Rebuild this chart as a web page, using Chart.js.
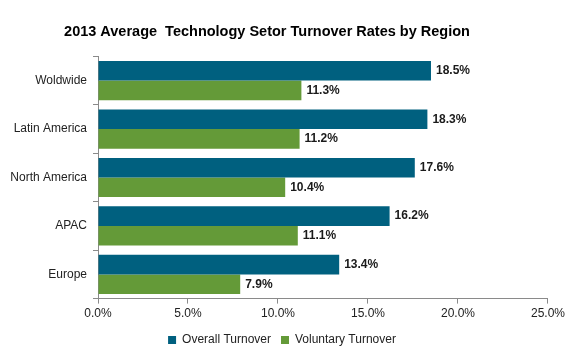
<!DOCTYPE html>
<html>
<head>
<meta charset="utf-8">
<script src="https://cdn.jsdelivr.net/npm/chart.js@4/dist/chart.umd.min.js"></script>
<style>
  html, body { margin: 0; padding: 0; background: #fff; }
  #wrap { width: 568px; height: 359px; }
</style>
</head>
<body>
<div id="wrap"><canvas id="turnover-chart"></canvas></div>
<script>
const regions = ['Woldwide', 'Latin America', 'North America', 'APAC', 'Europe'];
const overallTurnover = [18.5, 18.3, 17.6, 16.2, 13.4];
const voluntaryTurnover = [11.3, 11.2, 10.4, 11.1, 7.9];
const xTicks = [0, 5, 10, 15, 20, 25];

const blue = '#00607F';
const green = '#649A38';
const axisGray = '#8a8a8a';
const fontName = '"Liberation Sans", Arial, sans-serif';

// draws the value at the end of every bar
const barLabels = {
    id: 'barLabels',
    afterDatasetsDraw(chart) {
        const ctx = chart.ctx;
        ctx.save();
        ctx.font = 'bold 12px ' + fontName;
        ctx.fillStyle = '#1a1a1a';
        ctx.textAlign = 'left';
        ctx.textBaseline = 'middle';
        chart.data.datasets.forEach((ds, i) => {
            chart.getDatasetMeta(i).data.forEach((bar, j) => {
                ctx.fillText(ds.data[j].toFixed(1) + '%', bar.x + 5, bar.y);
            });
        });
        ctx.restore();
    }
};

// the title in the reference sits a bit left of centre
const shiftTitle = {
    id: 'shiftTitle',
    afterLayout(chart) {
        if (chart.titleBlock) {
            chart.titleBlock.right = chart.titleBlock.left + 534;
        }
    }
};

function main() {
    const canvas = document.querySelector('#turnover-chart');

    new Chart(canvas.getContext('2d'), {
        type: 'bar',
        data: {
            labels: regions,
            datasets: [
                {
                    label: 'Overall Turnover',
                    data: overallTurnover,
                    backgroundColor: blue,
                    borderWidth: 0
                },
                {
                    label: 'Voluntary Turnover',
                    data: voluntaryTurnover,
                    backgroundColor: green,
                    borderWidth: 0
                }
            ]
        },
        options: {
            indexAxis: 'y',
            responsive: true,
            maintainAspectRatio: false,
            animation: false,
            layout: { padding: { left: 0, right: 4, top: 0, bottom: 3 } },
            datasets: {
                bar: { categoryPercentage: 0.81, barPercentage: 1 }
            },
            scales: {
                x: {
                    min: 0,
                    max: 25,
                    afterBuildTicks(scale) {
                        scale.ticks = xTicks.map(v => ({ value: v }));
                    },
                    border: { display: true, color: axisGray, width: 1 },
                    grid: {
                        drawOnChartArea: false,
                        drawTicks: true,
                        tickLength: 5,
                        color: axisGray
                    },
                    ticks: {
                        padding: 3,
                        color: '#222',
                        font: { family: fontName, size: 12 },
                        maxRotation: 0,
                        callback: v => v.toFixed(1) + '%'
                    }
                },
                y: {
                    afterFit(scale) { scale.width = 98; },
                    border: { display: true, color: axisGray, width: 1 },
                    grid: {
                        offset: true,
                        drawOnChartArea: false,
                        drawTicks: true,
                        tickLength: 5,
                        color: axisGray
                    },
                    ticks: {
                        padding: 6,
                        color: '#222',
                        font: { family: fontName, size: 12 }
                    }
                }
            },
            plugins: {
                title: {
                    display: true,
                    text: '2013 Average  Technology Setor Turnover Rates by Region',
                    color: '#000',
                    font: { family: fontName, size: 14.5, weight: 'bold' },
                    padding: { top: 23, bottom: 16 }
                },
                legend: {
                    position: 'bottom',
                    labels: {
                        boxWidth: 8,
                        boxHeight: 8,
                        padding: 10,
                        color: '#222',
                        font: { family: fontName, size: 12 }
                    }
                },
                tooltip: { enabled: false }
            }
        },
        plugins: [barLabels, shiftTitle]
    });
}

main()
</script>
</body>
</html>
